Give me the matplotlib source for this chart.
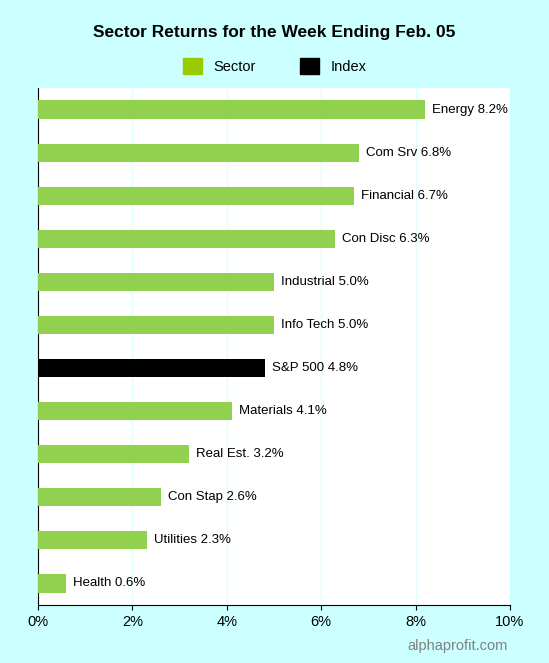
import matplotlib
matplotlib.use("Agg")
import matplotlib.pyplot as plt
from matplotlib.patches import Patch

labels = ["Energy", "Com Srv", "Financial", "Con Disc", "Industrial", "Info Tech",
          "S&P 500", "Materials", "Real Est.", "Con Stap", "Utilities", "Health"]
values = [8.2, 6.8, 6.7, 6.3, 5.0, 5.0, 4.8, 4.1, 3.2, 2.6, 2.3, 0.6]
kinds = ["Sector"] * 6 + ["Index"] + ["Sector"] * 5
xticks = [0, 2, 4, 6, 8, 10]

green = "#92D050"
bg = "#CCFFFF"

fig = plt.figure(figsize=(5.49, 6.63), dpi=100, facecolor=bg)
ax = fig.add_axes([38 / 549, 58 / 663, 472 / 549, 517 / 663])

y = list(range(len(labels)))[::-1]
colors = ["black" if k == "Index" else green for k in kinds]
ax.barh(y, values, height=0.42, color=colors, zorder=3)
for yi, v, lab in zip(y, values, labels):
    ax.text(v + 0.15, yi, f"{lab} {v:.1f}%", va="center", ha="left", fontsize=9.5,
            family="Liberation Sans", zorder=4)

ax.set_xlim(0, 10)
ax.set_ylim(-0.5, len(labels) - 0.5)
ax.set_xticks(xticks)
ax.set_xticklabels([f"{t}%" for t in xticks], fontsize=10.5, family="Liberation Sans")
ax.set_yticks([])
ax.grid(axis="x", color="#DDFFFF", linewidth=1, zorder=0)
for s in ["top", "right"]:
    ax.spines[s].set_visible(False)

fig.text(0.5, 1 - 32 / 663, "Sector Returns for the Week Ending Feb. 05", ha="center",
         va="center", fontsize=12.5, fontweight="bold", family="Liberation Sans")
handles = [Patch(color="#99CC00", label="Sector"), Patch(color="black", label="Index")]
fig.legend(handles=handles, loc="center", bbox_to_anchor=(0.5, 1 - 66 / 663), ncol=2,
           frameon=False, handlelength=1.3, handleheight=1.3, columnspacing=3,
           prop={"family": "Liberation Sans", "size": 10.5})
fig.text(508 / 549, 1 - 646 / 663, "alphaprofit.com", ha="right", va="center",
         fontsize=10.5, color="gray", family="Liberation Sans")

fig.savefig("out.png", dpi=100, facecolor=bg)
